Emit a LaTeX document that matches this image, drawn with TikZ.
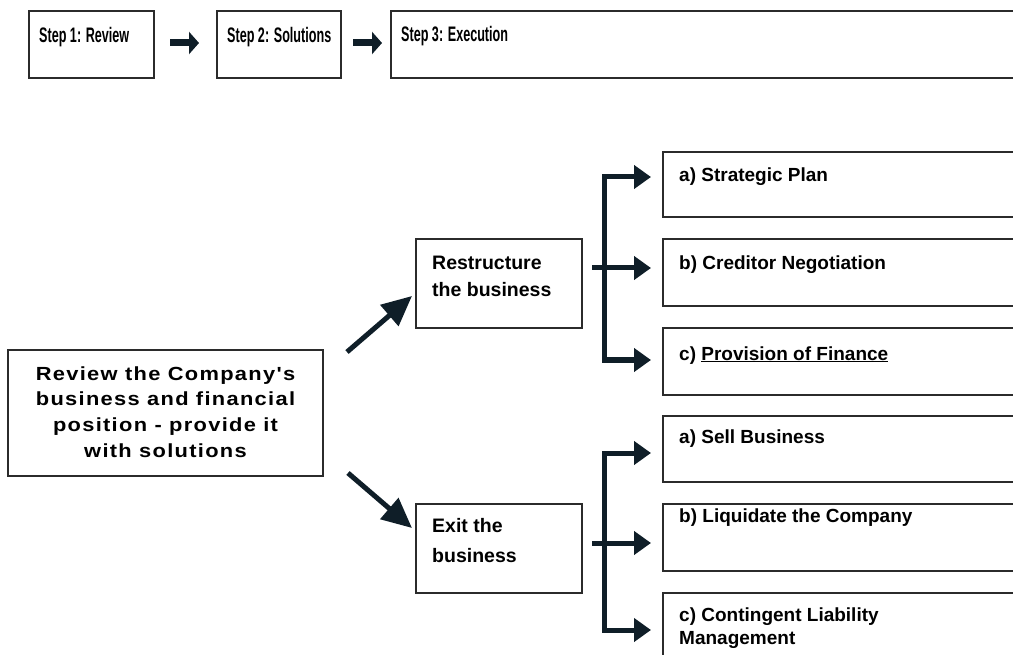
\documentclass[tikz,border=0pt]{standalone}
\usepackage{fontspec}
\setmainfont{Liberation Sans}
\usepackage{graphicx}
\usetikzlibrary{arrows.meta}
\newfontfamily\spacedfont[LetterSpace=6]{Liberation Sans}
\definecolor{arrowc}{HTML}{0F1E28}
\definecolor{boxc}{HTML}{2B2B2B}
\tikzset{
  box/.style={draw=boxc, line width=1.6pt, fill=white, inner sep=0pt, outer sep=0pt, anchor=north west},
  lbl/.style={anchor=base west, inner sep=0pt, font=\bfseries\fontsize{19}{23}\selectfont},
  steplbl/.style={anchor=base west, inner sep=0pt, font=\bfseries\fontsize{21}{23}\selectfont},
  flow/.style={draw=arrowc, line width=5pt, -{Triangle[length=17pt,width=23pt]}},
  topflow/.style={draw=arrowc, line width=7pt, -{Triangle[length=10pt,width=22pt]}},
  diag/.style={draw=arrowc, line width=5pt, -{Triangle[length=30pt,width=27pt]}},
}
\begin{document}
\begin{tikzpicture}[x=1pt, y=-1pt]
\useasboundingbox (0,0) rectangle (1013,655);
\clip (0,0) rectangle (1013,655);
% top row
\node[box, minimum width=125pt, minimum height=67pt] (s1) at (29,11) {};
\node[box, minimum width=124pt, minimum height=67pt] (s2) at (217,11) {};
\node[box, minimum width=639pt, minimum height=67pt] (s3) at (391,11) {};
\node[steplbl] (ts1) at (39,43) {\scalebox{0.6}[1]{Step 1: Review}};
\node[steplbl] (ts2) at (227,43) {\scalebox{0.6}[1]{Step 2: Solutions}};
\node[steplbl] (ts3) at (401,42) {\scalebox{0.6}[1]{Step 3: Execution}};
\draw[topflow] ([xshift=16pt,yshift=1.5pt]s1.east) -- ([xshift=-18pt,yshift=1.5pt]s2.west);
\draw[topflow] ([xshift=12pt,yshift=1.5pt]s2.east) -- ([xshift=-9pt,yshift=1.5pt]s3.west);
% main box
\node[box, minimum width=315pt, minimum height=126pt] (main) at (8,350) {};
\node[anchor=north, inner sep=0pt, font=\spacedfont\bfseries\fontsize{19}{25.7}\selectfont] (tmain) at (165.5,362)
  {\scalebox{1.15}[1]{\begin{tabular}{@{}c@{}}Review the Company's\\business and financial\\position - provide it\\with solutions\end{tabular}}};
% middle boxes
\node[box, minimum width=166pt, minimum height=89pt] (R) at (416,239) {};
\node[box, minimum width=166pt, minimum height=89pt] (E) at (416,504) {};
\node[anchor=north west, inner sep=0pt, align=left, font=\bfseries\fontsize{19.5}{27}\selectfont] (tR) at (432,256)
  {Restructure\\the business};
\node[anchor=north west, inner sep=0pt, align=left, font=\bfseries\fontsize{19.5}{30}\selectfont] (tE) at (432,518)
  {Exit the\\business};
% right boxes
\node[box, minimum width=367pt, minimum height=65pt] (ra) at (663,152) {};
\node[box, minimum width=367pt, minimum height=67pt] (rb) at (663,239) {};
\node[box, minimum width=367pt, minimum height=67pt] (rc) at (663,328) {};
\node[box, minimum width=367pt, minimum height=66pt] (ea) at (663,416) {};
\node[box, minimum width=367pt, minimum height=67pt] (eb) at (663,504) {};
\node[box, minimum width=367pt, minimum height=87pt] (ec) at (663,593) {};
\node[lbl] (tra) at (679,182) {a) Strategic Plan};
\node[lbl] (trb) at (679,270) {b) Creditor Negotiation};
\node[lbl] (trc) at (679,360) {c) \underline{Provision of Finance}};
\node[lbl] (tea) at (679,443) {a) Sell Business};
\node[lbl] (teb) at (679,522) {b) Liquidate the Company};
\node[anchor=north west, inner sep=0pt, align=left, font=\bfseries\fontsize{19}{23}\selectfont] (tec) at (679,608)
  {c) Contingent Liability\\Management};
% diagonal arrows
\draw[diag] ([xshift=24pt,yshift=-2pt]main.north east) -- ([xshift=-4pt,yshift=-12.5pt]R.west);
\draw[diag] ([xshift=25pt,yshift=3pt]main.south east) -- ([xshift=-4pt,yshift=20.5pt]E.west);
% restructure bracket
\coordinate (rj) at (604,268);
\coordinate (rt) at (604,177);
\coordinate (rbm) at (604,360);
\draw[flow, shorten >=12pt] (rj) -- (rt) -- (rt -| ra.west);
\draw[flow, shorten >=12pt] (rj) -- (rbm) -- (rbm -| rc.west);
\draw[flow, shorten <=10pt, shorten >=12pt] (R.east |- rj) -- (rj -| rb.west);
% exit bracket
\coordinate (ej) at (604,543);
\coordinate (et) at (604,453);
\coordinate (ebm) at (604,630);
\draw[flow, shorten >=12pt] (ej) -- (et) -- (et -| ea.west);
\draw[flow, shorten >=12pt] (ej) -- (ebm) -- (ebm -| ec.west);
\draw[flow, shorten <=10pt, shorten >=12pt] (E.east |- ej) -- (ej -| eb.west);
\end{tikzpicture}
\end{document}
